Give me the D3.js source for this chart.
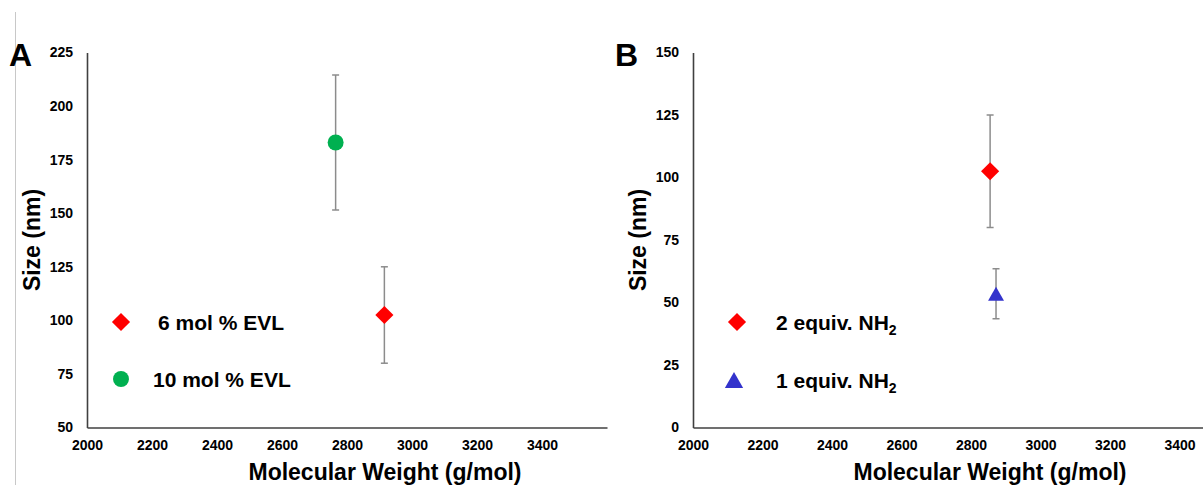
<!DOCTYPE html>
<html><head><meta charset="utf-8">
<script src="https://cdn.jsdelivr.net/npm/d3@7"></script>
<style>
body{margin:0;background:#fff;}
svg{display:block;}
text{font-family:"Liberation Sans",Arial,sans-serif;font-weight:bold;fill:#000;}
</style></head>
<body><svg id="c" width="1203" height="485"></svg>
<script>
// ---- data ----
const xTickLabels = [2000, 2200, 2400, 2600, 2800, 3000, 3200, 3400];
const yTicksA = [50, 75, 100, 125, 150, 175, 200, 225];
const yTicksB = [0, 25, 50, 75, 100, 125, 150];

const namesA = ["6 mol % EVL", "10 mol % EVL"];
const mwA = [2915, 2765];
const sizeA = [102.5, 183];
const errA = [22.5, 31.5];
const colorsA = ["#FF0000", "#00B050"];
const shapesA = ["diamond", "circle"];

const namesB = ["2 equiv. NH", "1 equiv. NH"];
const subB = ["2", "2"];
const mwB = [2855, 2872];
const sizeB = [102.5, 53.5];
const errB = [22.5, 10];
const colorsB = ["#FF0000", "#3333CC"];
const shapesB = ["diamond", "triangle"];

const svg = d3.select("#c");

// thin gray left border
svg.append("line").attr("x1",15.5).attr("x2",15.5).attr("y1",12).attr("y2",485)
  .attr("stroke","#c8c8c8").attr("stroke-width",1);

function triH(area){ return Math.sqrt(4*area/Math.sqrt(3))*Math.sqrt(3)/2; }
function symbolPath(shape, big){
  if(shape==="diamond") return d3.symbol().type(d3.symbolSquare).size(165)();
  if(shape==="circle") return d3.symbol().type(d3.symbolCircle).size(200)();
  return d3.symbol().type(d3.symbolTriangle).size(big ? 145 : 110)();
}
function symbolXf(shape, big){
  if(shape==="diamond") return " rotate(45)";
  if(shape==="triangle") return ` translate(0,${triH(big ? 145 : 110)/6})`;
  return "";
}

function panel(cfg){
  const g = svg.append("g");
  const x = d3.scaleLinear().domain([2000,3600]).range([cfg.x0, cfg.x0+cfg.pxPer200*8]);
  const y = d3.scaleLinear().domain(cfg.yDomain).range([cfg.yBottom, 52.5]);

  // axes
  const xa = g.append("g").attr("transform",`translate(0,${cfg.yBottom})`)
    .call(d3.axisBottom(x).tickValues(xTickLabels).tickSize(0).tickPadding(13).tickFormat(d3.format("d")));
  xa.select(".domain").attr("stroke","#404040").attr("stroke-width",1.6);
  xa.selectAll("text").style("font-size","14px").style("font-family","Liberation Sans, Arial, sans-serif").style("font-weight","bold").attr("fill","#000");

  const ya = g.append("g").attr("transform",`translate(${cfg.x0},0)`)
    .call(d3.axisLeft(y).tickValues(cfg.yTicks).tickSize(0).tickPadding(14));
  ya.select(".domain").attr("stroke","#404040").attr("stroke-width",1.6);
  ya.selectAll("text").style("font-size","14px").style("font-family","Liberation Sans, Arial, sans-serif").style("font-weight","bold").attr("fill","#000");

  // titles
  g.append("text").attr("x", cfg.titleX).attr("y", 480).attr("text-anchor","middle")
    .style("font-size","23px").text("Molecular Weight (g/mol)");
  g.append("text").attr("transform",`translate(${cfg.x0-47},240) rotate(-90)`).attr("text-anchor","middle")
    .style("font-size","23px").text("Size (nm)");
  g.append("text").attr("x", cfg.x0-78).attr("y", 66).style("font-size","32px").text(cfg.letter);

  // error bars + markers
  cfg.mw.forEach((m,i)=>{
    const cx = x(m), top = y(cfg.size[i]+cfg.err[i]), bot = y(cfg.size[i]-cfg.err[i]);
    const eb = g.append("g").attr("stroke","#8c8c8c").attr("stroke-width",1.5);
    eb.append("line").attr("x1",cx).attr("x2",cx).attr("y1",top).attr("y2",bot);
    eb.append("line").attr("x1",cx-3.5).attr("x2",cx+3.5).attr("y1",top).attr("y2",top);
    eb.append("line").attr("x1",cx-3.5).attr("x2",cx+3.5).attr("y1",bot).attr("y2",bot);
  });
  cfg.mw.forEach((m,i)=>{
    g.append("path").attr("d", symbolPath(cfg.shapes[i], false))
      .attr("transform",`translate(${x(m)},${y(cfg.size[i])})${symbolXf(cfg.shapes[i], false)}`)
      .attr("fill", cfg.colors[i]);
  });

  // legend
  cfg.names.forEach((n,i)=>{
    const ly = cfg.legY[i];
    g.append("path").attr("d", symbolPath(cfg.shapes[i], true))
      .attr("transform",`translate(${cfg.legX[i]},${ly})${symbolXf(cfg.shapes[i], true)}`)
      .attr("fill", cfg.colors[i]);
    const t = g.append("text").attr("x", cfg.legTX[i]).attr("y", ly+7.5).style("font-size","21px").text(n);
    if(cfg.sub) t.append("tspan").attr("dy",5).style("font-size","14px").text(cfg.sub[i]);
  });
}

panel({x0:87, pxPer200:65, yBottom:427.5, yDomain:[50,225], yTicks:yTicksA, letter:"A", titleX:385,
  names:namesA, mw:mwA, size:sizeA, err:errA, colors:colorsA, shapes:shapesA,
  legX:[121,121], legY:[322,379], legTX:[158,153]});
panel({x0:693, pxPer200:69.5, yBottom:427.5, yDomain:[0,150], yTicks:yTicksB, letter:"B", titleX:990,
  names:namesB, sub:subB, mw:mwB, size:sizeB, err:errB, colors:colorsB, shapes:shapesB,
  legX:[737,734], legY:[322,380], legTX:[776,776]});
</script></body></html>
